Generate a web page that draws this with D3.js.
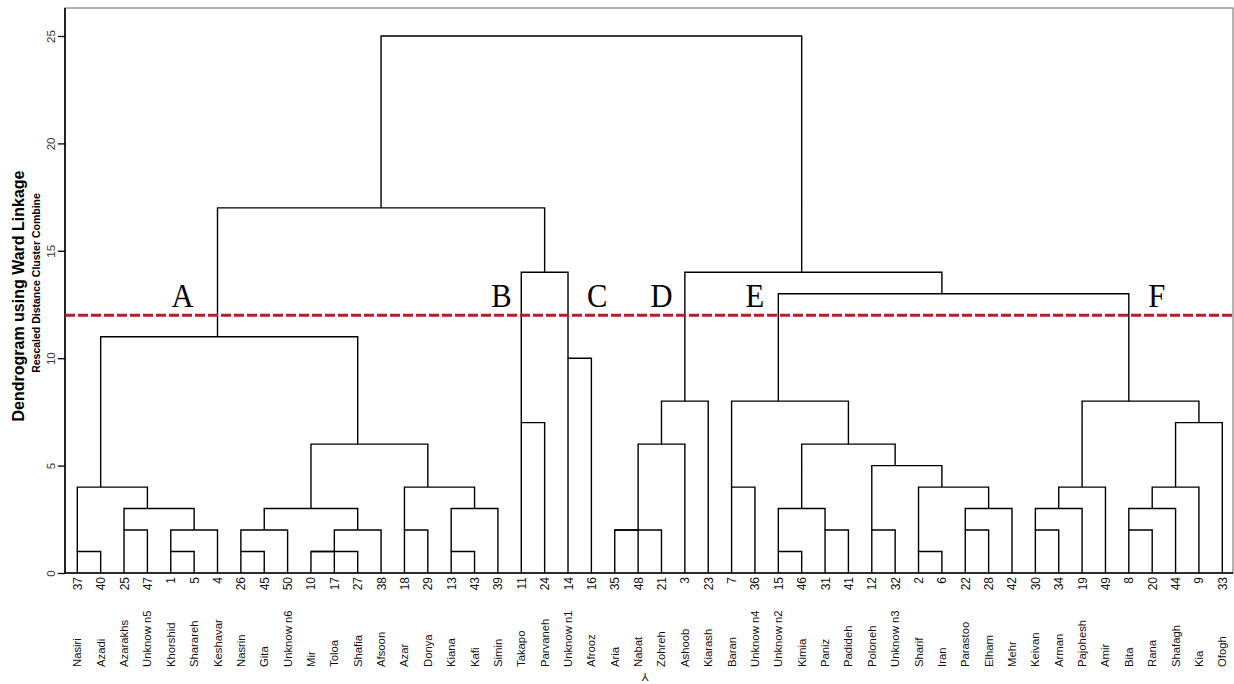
<!DOCTYPE html>
<html>
<head>
<meta charset="utf-8">
<script src="https://cdn.jsdelivr.net/npm/d3@7"></script>
<style>
  body { margin: 0; background: #fff; }
  text { font-family: Arial, "Liberation Sans", sans-serif; }
</style>
</head>
<body>
<div id="chart"></div>
<script>
// leaves in the order they are drawn, case number + name
const leafIds = ["37","40","25","47","1","5","4","26","45","50","10","17","27","38","18","29","13","43","39",
  "11","24","14","16","35","48","21","3","23","7","36","15","46","31","41","12","32","2","6","22","28","42",
  "30","34","19","49","8","20","44","9","33"];
const leafNames = ["Nasiri","Azadi","Azarakhs","Unknow n5","Khorshid","Sharareh","Keshavar","Nasrin","Gita",
  "Unknow n6","Mir","Toloa","Shafia","Afsoon","Azar","Donya","Kiana","Kafi","Simin","Takapo","Parvaneh",
  "Unknow n1","Afrooz","Aria","Nabat","Zohreh","Ashoob","Kiarash","Baran","Unknow n4","Unknow n2","Kimia",
  "Paniz","Padideh","Poloneh","Unknow n3","Sharif","Iran","Parastoo","Elham","Mehr","Keivan","Arman",
  "Pajohesh","Amir","Bita","Rana","Shafagh","Kia","Ofogh"];

// agglomeration schedule: negative = case number, positive = earlier row (1-based), then rescaled distance
const merges = [
  [-37,-40,1], [-25,-47,2], [-1,-5,1], [3,-4,2], [2,4,3], [1,5,4],
  [-26,-45,1], [7,-50,2], [-10,-17,1], [9,-27,1], [10,-38,2], [8,11,3],
  [-18,-29,2], [-13,-43,1], [14,-39,3], [13,15,4], [12,16,6], [6,17,11],
  [-11,-24,7], [-14,-16,10], [19,20,14], [18,21,17],
  [-35,-48,2], [23,-21,2], [24,-3,6], [25,-23,8],
  [-7,-36,4], [-15,-46,1], [-31,-41,2], [28,29,3], [-12,-32,2], [-2,-6,1],
  [-22,-28,2], [33,-42,3], [32,34,4], [31,35,5], [30,36,6], [27,37,8],
  [-30,-34,2], [39,-19,3], [40,-49,4], [-8,-20,2], [42,-44,3], [43,-9,4],
  [44,-33,7], [41,45,8], [38,46,13], [26,47,14], [22,48,25]
];

const yTicks = [0, 5, 10, 15, 20, 25];
const cutHeight = 12;
const groupLabels = ["A","B","C","D","E","F"];
const groupLabelAt = [4.5, 18.15, 22.25, 25, 29, 46.2]; // in leaf units

const svgWidth = 1234;
const svgHeight = 684;
const frame = { left: 65, right: 1233, top: 8, bottom: 573 };

const svg = d3.select("#chart")
  .append("svg")
  .attr("width", svgWidth)
  .attr("height", svgHeight);

const x = d3.scaleLinear()
  .domain([0, leafIds.length - 1])
  .range([77.3, 1222.3]);

const y = d3.scaleLinear()
  .domain([0, 25])
  .range([frame.bottom, 36]);

// frame
svg.append("rect")
  .attr("x", frame.left)
  .attr("y", frame.top)
  .attr("width", frame.right - frame.left)
  .attr("height", frame.bottom - frame.top)
  .attr("fill", "none")
  .attr("stroke", "#666")
  .attr("stroke-width", 1);

// left axis
const leftAxis = d3.axisLeft(y).tickValues(yTicks).tickSize(7).tickFormat(d3.format("d"));
const axisG = svg.append("g")
  .attr("transform", `translate(${frame.left},0)`)
  .call(leftAxis);
axisG.select(".domain").remove();
axisG.selectAll(".tick line").attr("stroke", "#000").attr("stroke-width", 1.3);
axisG.selectAll(".tick text")
  .attr("x", null).attr("dy", null)
  .attr("transform", "translate(-10,0) rotate(-90)")
  .attr("text-anchor", "middle")
  .attr("font-size", 11.5)
  .attr("fill", "#333");

svg.append("line")
  .attr("x1", frame.left).attr("x2", frame.left)
  .attr("y1", frame.top).attr("y2", frame.bottom)
  .attr("stroke", "#000").attr("stroke-width", 1.6);
svg.append("line")
  .attr("x1", frame.left).attr("x2", frame.right)
  .attr("y1", frame.bottom).attr("y2", frame.bottom)
  .attr("stroke", "#000").attr("stroke-width", 1.3);

// build the tree links
const leafIndex = new Map(leafIds.map((id, i) => [+id, i]));
const nodes = [];
const links = [];
function ref(r) {
  return r < 0 ? { pos: leafIndex.get(-r), h: 0 } : nodes[r - 1];
}
merges.forEach(function (m) {
  const a = ref(m[0]), b = ref(m[1]), h = m[2];
  links.push({ a: a, b: b, h: h });
  // SPSS puts the joined cluster at the (rounded down) middle of its two parts
  nodes.push({ pos: Math.floor((a.pos + b.pos) / 2), h: h });
});

svg.append("g")
  .selectAll("path")
  .data(links)
  .enter()
  .append("path")
  .attr("d", d => `M${x(d.a.pos)},${y(d.a.h)}V${y(d.h)}H${x(d.b.pos)}V${y(d.b.h)}`)
  .attr("fill", "none")
  .attr("stroke", "#000")
  .attr("stroke-width", 1.4);

// cut line
svg.append("line")
  .attr("x1", frame.left).attr("x2", frame.right)
  .attr("y1", y(cutHeight)).attr("y2", y(cutHeight))
  .attr("stroke", "#b3202a")
  .attr("stroke-width", 3)
  .attr("stroke-dasharray", "10,3");

// group letters
svg.append("g")
  .selectAll("text")
  .data(groupLabels)
  .enter()
  .append("text")
  .attr("transform", (d, i) => `translate(${x(groupLabelAt[i])},${y(cutHeight) - 8}) scale(0.9,1)`)
  .attr("text-anchor", "middle")
  .style("font-family", "'Liberation Serif', 'Times New Roman', serif")
  .attr("font-size", 34)
  .attr("fill", "#000")
  .text(d => d);

// leaf numbers
svg.append("g")
  .selectAll("text")
  .data(leafIds)
  .enter()
  .append("text")
  .attr("transform", (d, i) => `translate(${x(i) + 4.5},${frame.bottom + 4}) rotate(-90)`)
  .attr("text-anchor", "end")
  .attr("font-size", 12)
  .attr("fill", "#111")
  .text(d => d);

// leaf names
svg.append("g")
  .selectAll("text")
  .data(leafNames)
  .enter()
  .append("text")
  .attr("transform", (d, i) => `translate(${x(i) + 4},667) rotate(-90)`)
  .attr("text-anchor", "start")
  .attr("font-size", 11.3)
  .attr("fill", "#111")
  .text(d => d);

// x title (printed upside down in the source)
svg.append("text")
  .attr("transform", `translate(${(frame.left + frame.right) / 2 - 4},673) rotate(180)`)
  .attr("text-anchor", "middle")
  .attr("font-size", 11)
  .attr("fill", "#111")
  .text("Y");

// y titles
svg.append("text")
  .attr("transform", "translate(24,296) rotate(-90)")
  .attr("text-anchor", "middle")
  .attr("font-size", 16)
  .attr("font-weight", "bold")
  .attr("fill", "#000")
  .text("Dendrogram using Ward Linkage");

svg.append("text")
  .attr("transform", "translate(40,283) rotate(-90)")
  .attr("text-anchor", "middle")
  .attr("font-size", 10.5)
  .attr("font-weight", "bold")
  .attr("fill", "#000")
  .text("Rescaled Distance Cluster Combine");
</script>
</body>
</html>
